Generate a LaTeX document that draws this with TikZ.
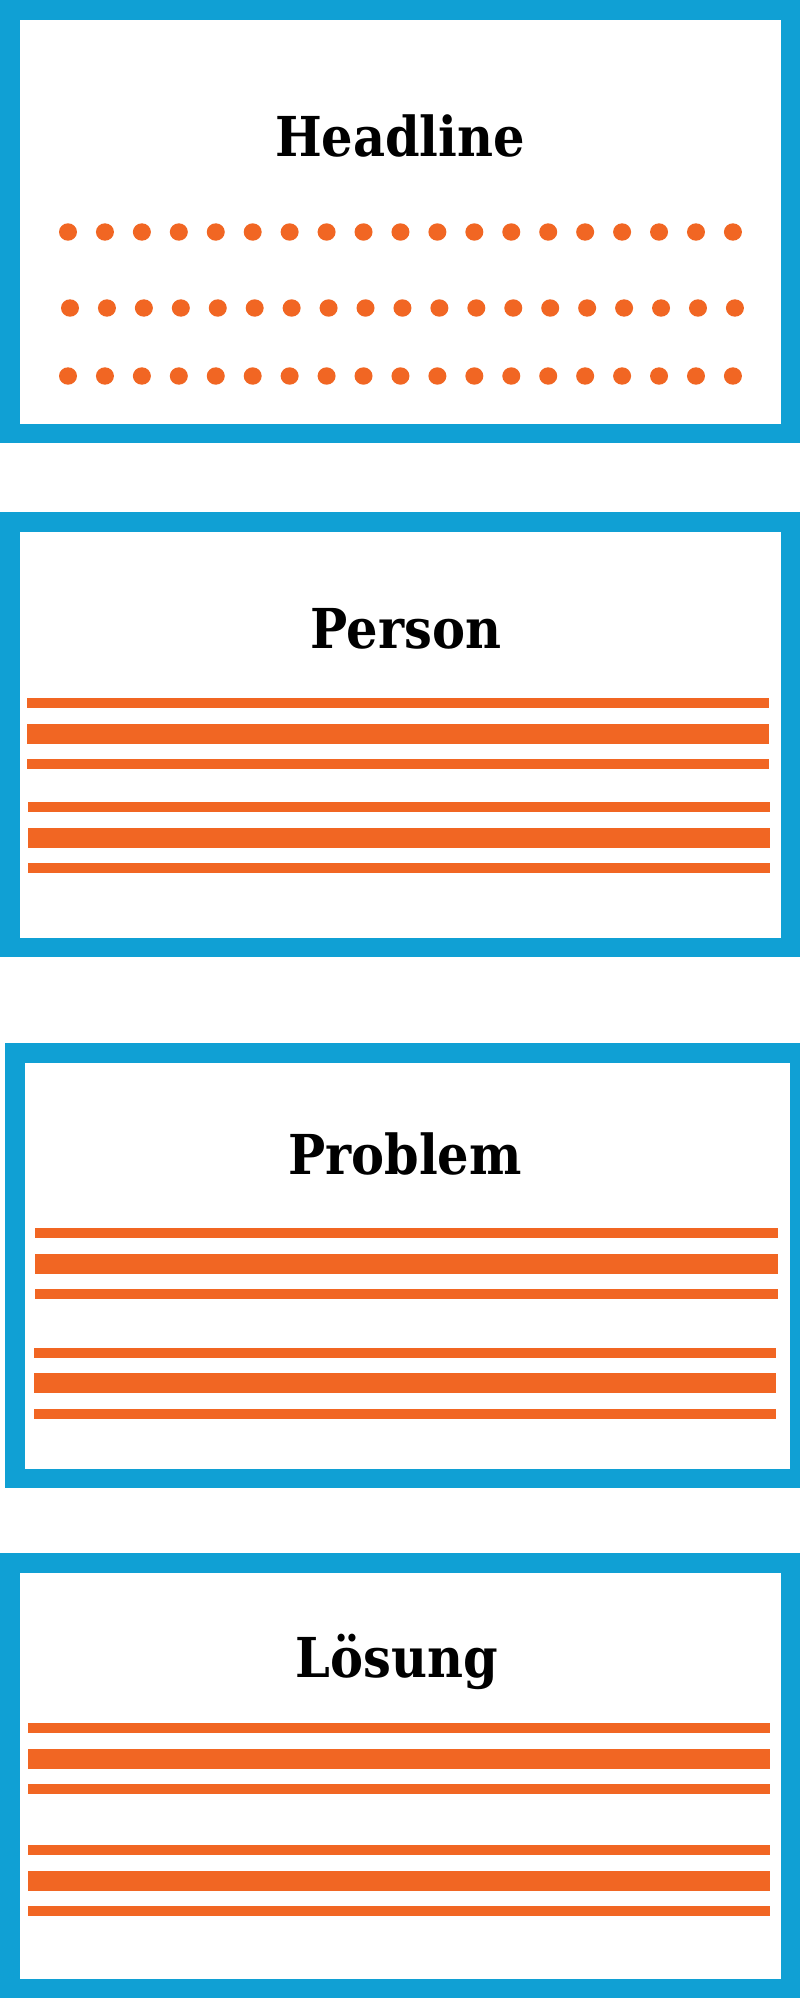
\documentclass[tikz,border=0pt]{standalone}
\usepackage{fontspec}
\newfontfamily\titlefont{DejaVu Serif Condensed}
\definecolor{frameblue}{RGB}{16,160,212}
\definecolor{stripeorange}{RGB}{241,102,35}
\tikzset{
  cardframe/.style={draw=frameblue, line width=19.5pt, fill=white},
  stripe/.style={fill=stripeorange, draw=none},
  dotmark/.style={fill=stripeorange, draw=none},
  cardtitle/.style={anchor=base, inner sep=0pt, font=\titlefont\bfseries\fontsize{55}{60}\selectfont, text=black}
}
\begin{document}
\begin{tikzpicture}[x=1pt,y=-1pt]
\useasboundingbox[fill=white] (0,0) rectangle (800,2000);
% frames
\draw[cardframe] (9.75,9.75) rectangle (790.25,433.25);
\draw[cardframe] (9.75,521.75) rectangle (790.25,947.25);
\draw[cardframe] (14.75,1052.75) rectangle (800,1478.25);
\draw[cardframe] (9.75,1562.75) rectangle (790.25,1988.25);
% titles
\node[cardtitle] (t1) at (400,156) {Headline};
\node[cardtitle] (t2) at (406,648) {Person};
\node[cardtitle] (t3) at (405,1174) {Problem};
\node[cardtitle] (t4) at (397,1677) {Lösung};
% dots
\foreach \i in {0,...,18}{
  \fill[dotmark] (68+\i*36.94,232) circle [x radius=9, y radius=8.7];
  \fill[dotmark] (70+\i*36.94,308) circle [x radius=9, y radius=8.7];
  \fill[dotmark] (68+\i*36.94,376) circle [x radius=9, y radius=8.7];
}
% stripes card 2
\fill[stripe] (27,698) rectangle (769,708);
\fill[stripe] (27,724) rectangle (769,744);
\fill[stripe] (27,759) rectangle (769,769);
\fill[stripe] (28,802) rectangle (770,812);
\fill[stripe] (28,828) rectangle (770,848);
\fill[stripe] (28,863) rectangle (770,873);
% stripes card 3
\fill[stripe] (35,1228) rectangle (778,1238);
\fill[stripe] (35,1254) rectangle (778,1274);
\fill[stripe] (35,1289) rectangle (778,1299);
\fill[stripe] (34,1348) rectangle (776,1358);
\fill[stripe] (34,1373) rectangle (776,1393);
\fill[stripe] (34,1409) rectangle (776,1419);
% stripes card 4
\fill[stripe] (28,1723) rectangle (770,1733);
\fill[stripe] (28,1749) rectangle (770,1769);
\fill[stripe] (28,1784) rectangle (770,1794);
\fill[stripe] (28,1845) rectangle (770,1855);
\fill[stripe] (28,1871) rectangle (770,1891);
\fill[stripe] (28,1906) rectangle (770,1916);
\end{tikzpicture}
\end{document}
